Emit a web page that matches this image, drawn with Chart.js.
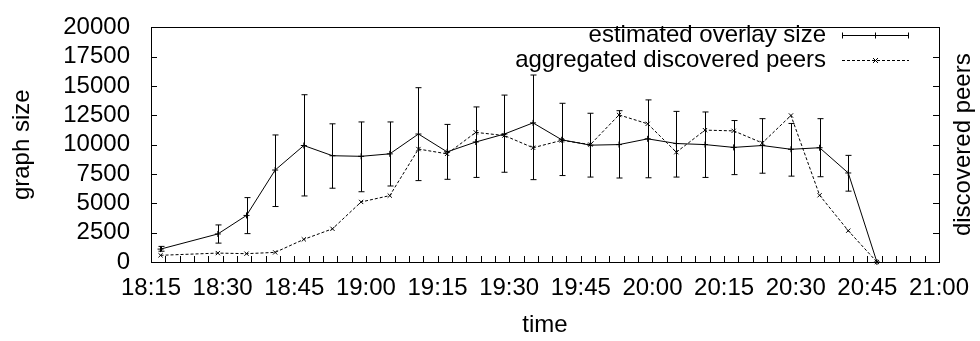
<!DOCTYPE html>
<html>
<head>
<meta charset="utf-8">
<script src="https://cdn.jsdelivr.net/npm/chart.js@4.4.0/dist/chart.umd.min.js"></script>
<style>
html, body { margin: 0; padding: 0; background: #fff; }
</style>
</head>
<body>
<canvas id="graph" width="980" height="341"></canvas>
<script>
// measurement times
var times = ['18:17', '18:29', '18:35', '18:41', '18:47', '18:53', '18:59', '19:05', '19:11',
    '19:17', '19:23', '19:29', '19:35', '19:41', '19:47', '19:53', '19:59', '20:05', '20:11',
    '20:17', '20:23', '20:29', '20:35', '20:41', '20:47'];

// estimated overlay size with error bars
var overlaySize = [1100, 2390, 3970, 7840, 9930, 9060, 9010, 9220, 10910, 9390, 10230, 10910,
    11860, 10420, 9960, 10010, 10500, 10100, 10010, 9770, 9930, 9610, 9740, 7590, 0];
var overlayLow = [920, 1610, 2420, 4730, 5630, 6290, 5990, 6480, 6940, 7050, 7210, 7650,
    7020, 7370, 7240, 7160, 7180, 7240, 7210, 7450, 7570, 7320, 7270, 6040, 0];
var overlayHigh = [1330, 3160, 5490, 10830, 14260, 11780, 11940, 11940, 14860, 11730, 13220, 14230,
    15940, 13530, 12680, 12900, 13820, 12840, 12790, 12060, 12220, 11810, 12220, 9090, 0];

// aggregated discovered peers
var discoveredPeers = [570, 760, 710, 820, 1930, 2830, 5120, 5660, 9630, 9220, 11050, 10780,
    9740, 10370, 10010, 12540, 11780, 9360, 11240, 11180, 10150, 12490, 5690, 2670, 0];

var xRange = ['18:15', '21:00'];
var yMax = 20000;
var yStep = 2500;

function toMin(t) {
    var p = t.split(':');
    return parseInt(p[0], 10) * 60 + parseInt(p[1], 10);
}
function fmt(m) {
    var h = Math.floor(m / 60), mm = m % 60;
    return h + ':' + (mm < 10 ? '0' : '') + mm;
}

var FONT = "'Liberation Sans', Arial, sans-serif";
Chart.defaults.font.family = FONT;
Chart.defaults.font.size = 24;
Chart.defaults.color = '#000';

var sizePts = times.map(function (t, i) { return { x: toMin(t), y: overlaySize[i] }; });
var peerPts = times.map(function (t, i) { return { x: toMin(t), y: discoveredPeers[i] }; });

// gnuplot-like frame, inward ticks, error bars, legend and axis titles
var gnuplotLook = {
    id: 'gnuplotLook',
    beforeDatasetsDraw: function (chart) {
        var ctx = chart.ctx, xs = chart.scales.x, ys = chart.scales.y;
        ctx.save();
        ctx.strokeStyle = '#000';
        ctx.lineWidth = 1;
        for (var i = 0; i < times.length; i++) {
            if (overlayHigh[i] === overlayLow[i]) continue;
            var px = Math.round(xs.getPixelForValue(toMin(times[i]))) + 0.5;
            var top = ys.getPixelForValue(overlayHigh[i]);
            var bot = ys.getPixelForValue(overlayLow[i]);
            ctx.beginPath();
            ctx.moveTo(px, top); ctx.lineTo(px, bot);
            ctx.moveTo(px - 3, top); ctx.lineTo(px + 3, top);
            ctx.moveTo(px - 3, bot); ctx.lineTo(px + 3, bot);
            ctx.stroke();
        }
        ctx.restore();
    },
    afterDraw: function (chart) {
        var ctx = chart.ctx, a = chart.chartArea, xs = chart.scales.x, ys = chart.scales.y;
        ctx.save();
        ctx.strokeStyle = '#000';
        ctx.lineWidth = 1;
        ctx.strokeRect(Math.round(a.left) + 0.5, Math.round(a.top) + 0.5,
            Math.round(a.right - a.left), Math.round(a.bottom - a.top));

        ctx.beginPath();
        for (var v = 0; v <= yMax; v += yStep) {
            var py = Math.round(ys.getPixelForValue(v)) + 0.5;
            ctx.moveTo(a.left, py); ctx.lineTo(a.left + 6, py);
            ctx.moveTo(a.right, py); ctx.lineTo(a.right - 6, py);
        }
        for (var m = toMin(xRange[0]); m <= toMin(xRange[1]); m += 3) {
            var px = Math.round(xs.getPixelForValue(m)) + 0.5;
            ctx.moveTo(px, a.bottom); ctx.lineTo(px, a.bottom - 6);
        }
        ctx.stroke();

        // legend
        ctx.font = '24px ' + FONT;
        ctx.fillStyle = '#000';
        ctx.textAlign = 'right';
        ctx.textBaseline = 'middle';
        var rows = [35, 60];
        chart.data.datasets.forEach(function (ds, i) {
            var y = rows[i] + 0.5;
            ctx.fillText(ds.label, 826, rows[i]);
            ctx.beginPath();
            ctx.setLineDash(ds.borderDash || []);
            ctx.moveTo(842, y); ctx.lineTo(909, y);
            ctx.stroke();
            ctx.setLineDash([]);
            ctx.beginPath();
            if (i === 0) {
                ctx.moveTo(842.5, y - 3); ctx.lineTo(842.5, y + 3);
                ctx.moveTo(908.5, y - 3); ctx.lineTo(908.5, y + 3);
                ctx.moveTo(875.5, y - 3); ctx.lineTo(875.5, y + 3);
            } else {
                ctx.moveTo(873, y - 2.5); ctx.lineTo(878, y + 2.5);
                ctx.moveTo(873, y + 2.5); ctx.lineTo(878, y - 2.5);
            }
            ctx.stroke();
        });

        // axis titles
        var cy = (a.top + a.bottom) / 2;
        ctx.textAlign = 'center';
        ctx.fillText('time', (a.left + a.right) / 2, 325);
        ctx.translate(22, cy);
        ctx.rotate(-Math.PI / 2);
        ctx.fillText('graph size', 0, 0);
        ctx.rotate(Math.PI / 2);
        ctx.translate(941, 0);
        ctx.rotate(-Math.PI / 2);
        ctx.fillText('discovered peers', 0, 0);
        ctx.restore();
    }
};

new Chart(document.getElementById('graph'), {
    type: 'line',
    data: {
        datasets: [{
            label: 'estimated overlay size',
            data: sizePts,
            borderColor: '#000',
            borderWidth: 1,
            pointStyle: 'cross',
            pointRadius: 3,
            pointBorderColor: '#000',
            pointBorderWidth: 1,
            fill: false,
            tension: 0,
            clip: 6
        }, {
            label: 'aggregated discovered peers',
            data: peerPts,
            borderColor: '#000',
            borderWidth: 1,
            borderDash: [3, 2],
            pointStyle: 'crossRot',
            pointRadius: 3,
            pointBorderColor: '#000',
            pointBorderWidth: 1,
            fill: false,
            tension: 0,
            clip: 6
        }]
    },
    options: {
        responsive: false,
        animation: false,
        layout: { padding: { top: 17, left: 0, right: 0, bottom: 0 } },
        plugins: { legend: { display: false }, tooltip: { enabled: false } },
        scales: {
            x: {
                type: 'linear',
                min: toMin(xRange[0]),
                max: toMin(xRange[1]),
                grid: { display: false },
                border: { display: false },
                ticks: {
                    stepSize: 15,
                    autoSkip: false,
                    maxRotation: 0,
                    padding: 4,
                    callback: function (v) { return fmt(v); }
                },
                afterFit: function (s) { s.height = 79; }
            },
            y: {
                min: 0,
                max: yMax,
                grid: { display: false },
                border: { display: false },
                ticks: {
                    stepSize: yStep,
                    autoSkip: false,
                    padding: 13,
                    callback: function (v) { return String(v); }
                },
                afterFit: function (s) { s.width = 151; }
            },
            y2: {
                position: 'right',
                min: 0,
                max: yMax,
                grid: { display: false },
                border: { display: false },
                ticks: { display: false },
                afterFit: function (s) { s.width = 41; }
            }
        }
    },
    plugins: [gnuplotLook]
});
</script>
</body>
</html>
